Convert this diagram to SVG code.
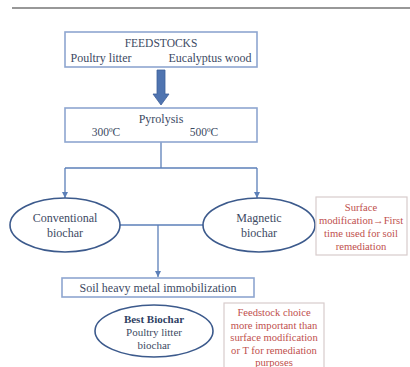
<svg xmlns="http://www.w3.org/2000/svg" width="410" height="367" viewBox="0 0 410 367">
<defs>
<style>
.box{fill:#fff;stroke:#8ea6d0;stroke-width:1.6}
.note{fill:#fff;stroke:#d8cccc;stroke-width:1.2}
.ell{fill:#fff;stroke:#3c5a8c;stroke-width:1.6}
.t{font-family:"Liberation Serif","Times New Roman",serif;font-size:12px;fill:#3d4a63;text-anchor:middle}
.r{font-family:"Liberation Serif","Times New Roman",serif;font-size:10.6px;fill:#c0504d;text-anchor:middle}
.con{fill:none;stroke:#5b7fb8;stroke-width:1.3}
</style>
<marker id="ah" viewBox="0 0 10 10" refX="10" refY="5" markerWidth="6" markerHeight="6" markerUnits="userSpaceOnUse" orient="auto">
<path d="M0,0 L10,5 L0,10 Z" fill="#5b7fb8"/>
</marker>
</defs>
<rect width="410" height="367" fill="#fff"/>
<line x1="12" y1="8" x2="410" y2="8" stroke="#333" stroke-width="1.2"/>

<g id="connectors">
<path d="M157,70 H165 V94 H169 L161,105 L153,94 H157 Z" fill="#4f74b0" stroke="#3d5f99" stroke-width="0.8"/>
<line class="con" x1="161" y1="142" x2="161" y2="168"/>
<line class="con" x1="65" y1="168" x2="257" y2="168"/>
<line class="con" x1="65" y1="168" x2="65" y2="198" marker-end="url(#ah)"/>
<line class="con" x1="257" y1="168" x2="257" y2="198" marker-end="url(#ah)"/>
<line class="con" x1="120" y1="225" x2="203" y2="225"/>
<line class="con" x1="158" y1="225" x2="158" y2="277" marker-end="url(#ah)"/>
</g>

<g id="feedstocks">
<rect class="box" x="65" y="32" width="192" height="35"/>
<text class="t" x="161" y="47" style="font-size:11.5px">FEEDSTOCKS</text>
<text class="t" x="101" y="62">Poultry litter</text>
<text class="t" x="210" y="62">Eucalyptus wood</text>
</g>

<g id="pyrolysis">
<rect class="box" x="65" y="108" width="192" height="34"/>
<text class="t" x="161" y="123">Pyrolysis</text>
<text class="t" x="106" y="136" style="font-size:11.5px">300ºC</text>
<text class="t" x="204" y="136" style="font-size:11.5px">500ºC</text>
</g>

<g id="conventional">
<ellipse class="ell" cx="65" cy="225" rx="55" ry="27"/>
<text class="t" x="65" y="222">Conventional</text>
<text class="t" x="65" y="237">biochar</text>
</g>

<g id="magnetic">
<ellipse class="ell" cx="259" cy="225" rx="56" ry="27"/>
<text class="t" x="259" y="222">Magnetic</text>
<text class="t" x="259" y="237">biochar</text>
</g>

<g id="note1">
<rect class="note" x="316" y="197" width="91" height="58"/>
<text class="r" x="361" y="211">Surface</text>
<text class="r" x="361" y="224">modification<tspan font-weight="bold">→</tspan>First</text>
<text class="r" x="361" y="237">time used for soil</text>
<text class="r" x="361" y="250">remediation</text>
</g>

<g id="soil">
<rect class="box" x="62" y="278" width="192" height="19"/>
<text class="t" x="158" y="292">Soil heavy metal immobilization</text>
</g>

<g id="best">
<ellipse class="ell" cx="154" cy="331" rx="59" ry="26"/>
<text class="t" x="154" y="323" style="font-size:11px;font-weight:bold;fill:#2f3f63">Best Biochar</text>
<text class="t" x="154" y="336" style="font-size:11px">Poultry litter</text>
<text class="t" x="154" y="349" style="font-size:11px">biochar</text>
</g>

<g id="note2">
<rect class="note" x="224" y="303" width="100" height="70"/>
<text class="r" x="274" y="316">Feedstock choice</text>
<text class="r" x="274" y="328.5">more important than</text>
<text class="r" x="274" y="341">surface modification</text>
<text class="r" x="274" y="353.5">or T for remediation</text>
<text class="r" x="274" y="365.5">purposes</text>
</g>
</svg>
